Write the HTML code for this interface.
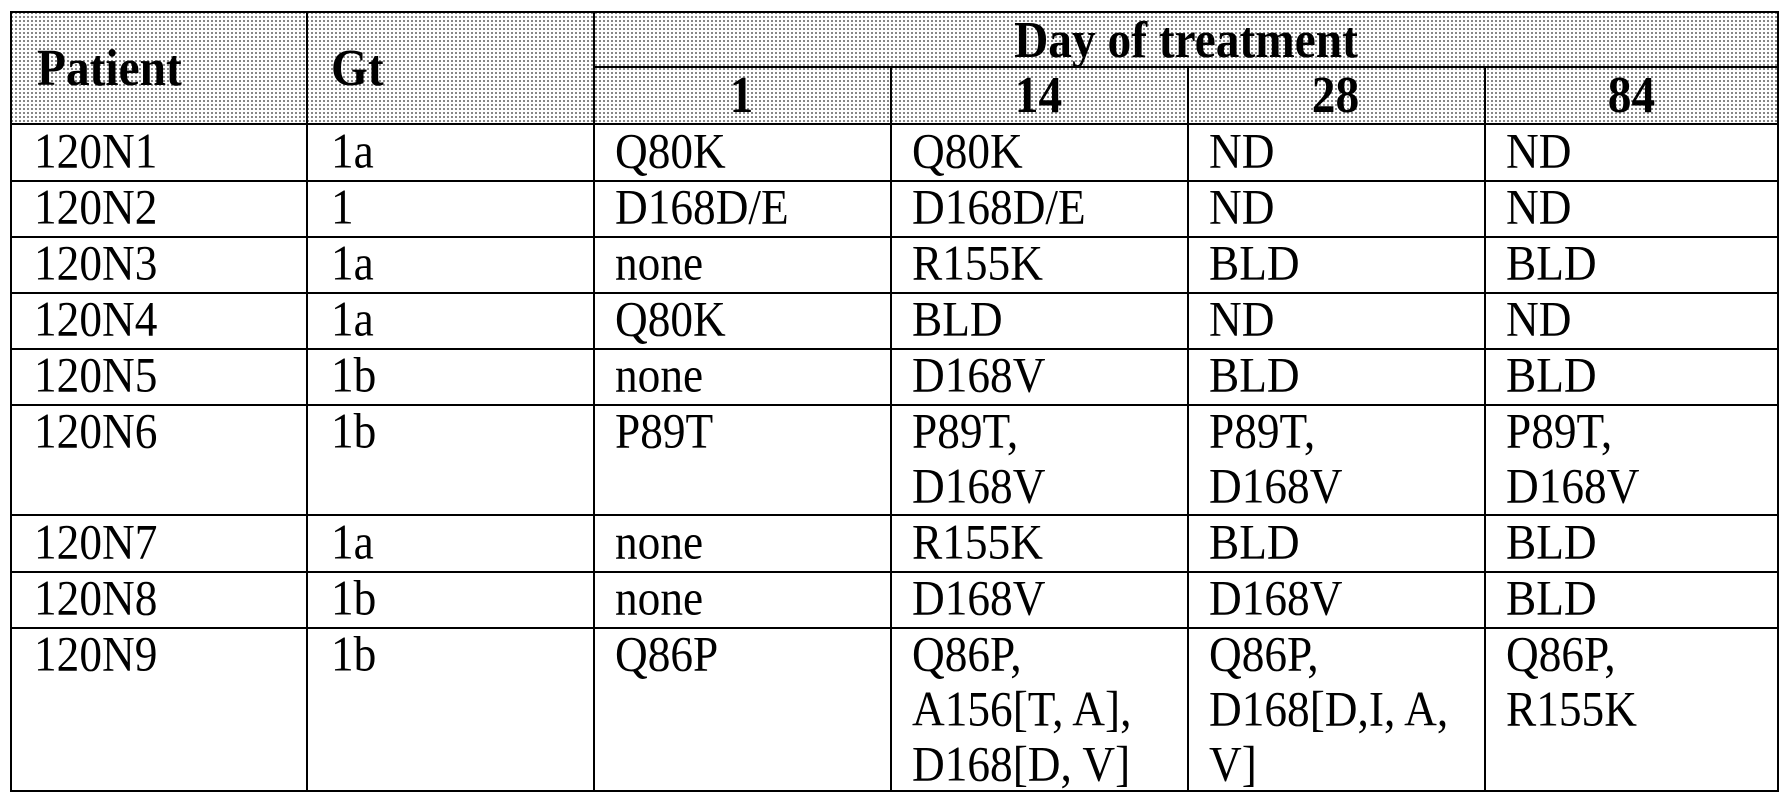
<!DOCTYPE html>
<html><head><meta charset="utf-8"><style>
html,body{margin:0;padding:0;background:#fff;}
body{width:1791px;height:802px;position:relative;overflow:hidden;font-family:"Liberation Serif",serif;color:#000;}
.hdr{position:absolute;background-color:#fff;background-image:radial-gradient(circle,#666 0.8px,transparent 1.1px);background-size:4px 4px;}
.h{position:absolute;height:2px;background:#000;}
.v{position:absolute;width:2px;background:#000;}
.t{position:absolute;font-size:44px;line-height:55px;white-space:nowrap;transform:scale(1.03,1.12);transform-origin:0 50%;}
.b{font-weight:bold;font-size:46px;}
.c{text-align:center;transform-origin:50% 50%;}
</style></head><body>
<div class="hdr" style="left:10px;top:11px;width:1767px;height:112px;"></div>
<div class="h" style="left:10px;top:11px;width:1769px;"></div>
<div class="h" style="left:593px;top:66px;width:1186px;"></div>
<div class="h" style="left:10px;top:123px;width:1769px;"></div>
<div class="h" style="left:10px;top:180px;width:1769px;"></div>
<div class="h" style="left:10px;top:236px;width:1769px;"></div>
<div class="h" style="left:10px;top:292px;width:1769px;"></div>
<div class="h" style="left:10px;top:348px;width:1769px;"></div>
<div class="h" style="left:10px;top:404px;width:1769px;"></div>
<div class="h" style="left:10px;top:514px;width:1769px;"></div>
<div class="h" style="left:10px;top:571px;width:1769px;"></div>
<div class="h" style="left:10px;top:627px;width:1769px;"></div>
<div class="h" style="left:10px;top:790px;width:1769px;"></div>
<div class="v" style="left:10px;top:11px;height:781px;"></div>
<div class="v" style="left:306px;top:11px;height:781px;"></div>
<div class="v" style="left:593px;top:11px;height:781px;"></div>
<div class="v" style="left:890px;top:66px;height:726px;"></div>
<div class="v" style="left:1187px;top:66px;height:726px;"></div>
<div class="v" style="left:1484px;top:66px;height:726px;"></div>
<div class="v" style="left:1777px;top:11px;height:781px;"></div>
<div class="t b" style="left:37px;top:40px;">Patient</div>
<div class="t b" style="left:331px;top:40px;">Gt</div>
<div class="t b c" style="left:593px;width:1186px;top:12px;">Day of treatment</div>
<div class="t b c" style="left:593px;width:297px;top:67px;">1</div>
<div class="t b c" style="left:890px;width:297px;top:67px;">14</div>
<div class="t b c" style="left:1187px;width:297px;top:67px;">28</div>
<div class="t b c" style="left:1484px;width:295px;top:67px;">84</div>
<div class="t" style="left:34px;top:124px;">120N1</div><div class="t" style="left:331px;top:124px;">1a</div><div class="t" style="left:615px;top:124px;">Q80K</div><div class="t" style="left:912px;top:124px;">Q80K</div><div class="t" style="left:1209px;top:124px;">ND</div><div class="t" style="left:1506px;top:124px;">ND</div>
<div class="t" style="left:34px;top:180px;">120N2</div><div class="t" style="left:331px;top:180px;">1</div><div class="t" style="left:615px;top:180px;">D168D/E</div><div class="t" style="left:912px;top:180px;">D168D/E</div><div class="t" style="left:1209px;top:180px;">ND</div><div class="t" style="left:1506px;top:180px;">ND</div>
<div class="t" style="left:34px;top:236px;">120N3</div><div class="t" style="left:331px;top:236px;">1a</div><div class="t" style="left:615px;top:236px;">none</div><div class="t" style="left:912px;top:236px;">R155K</div><div class="t" style="left:1209px;top:236px;">BLD</div><div class="t" style="left:1506px;top:236px;">BLD</div>
<div class="t" style="left:34px;top:292px;">120N4</div><div class="t" style="left:331px;top:292px;">1a</div><div class="t" style="left:615px;top:292px;">Q80K</div><div class="t" style="left:912px;top:292px;">BLD</div><div class="t" style="left:1209px;top:292px;">ND</div><div class="t" style="left:1506px;top:292px;">ND</div>
<div class="t" style="left:34px;top:348px;">120N5</div><div class="t" style="left:331px;top:348px;">1b</div><div class="t" style="left:615px;top:348px;">none</div><div class="t" style="left:912px;top:348px;">D168V</div><div class="t" style="left:1209px;top:348px;">BLD</div><div class="t" style="left:1506px;top:348px;">BLD</div>
<div class="t" style="left:34px;top:404px;">120N6</div><div class="t" style="left:331px;top:404px;">1b</div><div class="t" style="left:615px;top:404px;">P89T</div><div class="t" style="left:912px;top:404px;">P89T,</div><div class="t" style="left:912px;top:459px;">D168V</div><div class="t" style="left:1209px;top:404px;">P89T,</div><div class="t" style="left:1209px;top:459px;">D168V</div><div class="t" style="left:1506px;top:404px;">P89T,</div><div class="t" style="left:1506px;top:459px;">D168V</div>
<div class="t" style="left:34px;top:515px;">120N7</div><div class="t" style="left:331px;top:515px;">1a</div><div class="t" style="left:615px;top:515px;">none</div><div class="t" style="left:912px;top:515px;">R155K</div><div class="t" style="left:1209px;top:515px;">BLD</div><div class="t" style="left:1506px;top:515px;">BLD</div>
<div class="t" style="left:34px;top:571px;">120N8</div><div class="t" style="left:331px;top:571px;">1b</div><div class="t" style="left:615px;top:571px;">none</div><div class="t" style="left:912px;top:571px;">D168V</div><div class="t" style="left:1209px;top:571px;">D168V</div><div class="t" style="left:1506px;top:571px;">BLD</div>
<div class="t" style="left:34px;top:627px;">120N9</div><div class="t" style="left:331px;top:627px;">1b</div><div class="t" style="left:615px;top:627px;">Q86P</div>
<div class="t" style="left:912px;top:627px;">Q86P,</div><div class="t" style="left:912px;top:682px;">A156[T, A],</div><div class="t" style="left:912px;top:737px;">D168[D, V]</div>
<div class="t" style="left:1209px;top:627px;">Q86P,</div><div class="t" style="left:1209px;top:682px;">D168[D,I, A,</div><div class="t" style="left:1209px;top:737px;">V]</div>
<div class="t" style="left:1506px;top:627px;">Q86P,</div><div class="t" style="left:1506px;top:682px;">R155K</div>
</body></html>
